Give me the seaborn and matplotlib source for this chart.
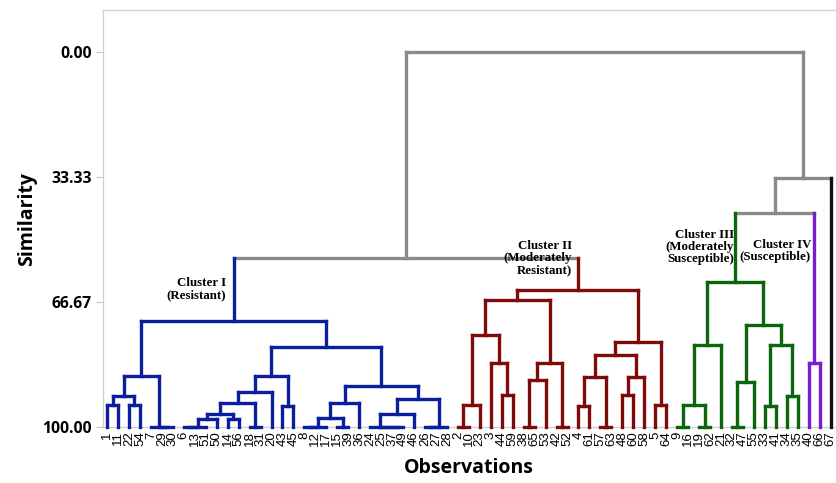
import matplotlib
matplotlib.use("Agg")
import matplotlib.pyplot as plt
import seaborn as sns

# leaves in the order they appear along the x axis
leaf_order = [1, 11, 22, 54, 7, 29, 30, 6, 13, 51, 50, 14, 56, 18, 31, 20, 43, 45,
              8, 12, 17, 15, 39, 36, 24, 25, 37, 49, 46, 26, 27, 28,
              2, 10, 23, 3, 44, 59, 38, 65, 53, 42, 52, 4, 61, 57, 63, 48, 60, 58, 5, 64,
              9, 16, 19, 62, 21, 32, 47, 55, 33, 41, 34, 35,
              40, 66, 67]

# merges: (node, left, right, similarity)
merges_c1 = [
    ("i1", 1, 11, 94.1), ("i2", 22, 54, 94.1), ("i3", "i1", "i2", 91.7),
    ("i4", 29, 30, 100.0), ("i5", 7, "i4", 100.0), ("i6", "i3", "i5", 86.5),
    ("i7", 6, 13, 100.0), ("i8", "i7", 51, 100.0), ("i9", "i8", 50, 97.9),
    ("i10", 14, 56, 97.9), ("i11", "i9", "i10", 96.5), ("i12", 18, 31, 100.0),
    ("i13", "i11", "i12", 93.5), ("i14", "i13", 20, 90.6), ("i15", 43, 45, 94.4),
    ("i16", "i14", "i15", 86.5),
    ("i17", 8, 12, 100.0), ("i18", "i17", 17, 100.0), ("i19", 15, 39, 100.0),
    ("i20", "i18", "i19", 97.7), ("i21", "i20", 36, 93.7),
    ("i22", 37, 49, 100.0), ("i23", 25, "i22", 100.0), ("i24", 24, "i23", 100.0),
    ("i25", "i24", 46, 96.5), ("i26", 26, 27, 100.0), ("i27", "i26", 28, 100.0),
    ("i28", "i25", "i27", 92.6), ("i29", "i21", "i28", 89.1),
    ("i30", "i16", "i29", 78.6), ("I", "i6", "i30", 71.6),
]
merges_c2 = [
    ("ii1", 2, 10, 100.0), ("ii2", "ii1", 23, 94.1), ("ii3", 44, 59, 91.5),
    ("ii4", 3, "ii3", 82.8), ("ii5", "ii2", "ii4", 75.5),
    ("ii6", 38, 65, 100.0), ("ii7", "ii6", 53, 87.6), ("ii8", 42, 52, 100.0),
    ("ii9", "ii7", "ii8", 82.8), ("ii10", "ii5", "ii9", 66.1),
    ("ii11", 4, 61, 94.4), ("ii12", 57, 63, 100.0), ("ii13", "ii11", "ii12", 86.6),
    ("ii14", 48, 60, 91.5), ("ii15", "ii14", 58, 86.6), ("ii16", "ii13", "ii15", 80.8),
    ("ii17", 5, 64, 94.1), ("ii18", "ii16", "ii17", 77.2),
    ("II", "ii10", "ii18", 63.5),
]
merges_c3 = [
    ("iii1", 9, 16, 100.0), ("iii2", 19, 62, 100.0), ("iii3", "iii1", "iii2", 94.1),
    ("iii4", "iii3", 21, 78.1), ("iii5", 32, 47, 100.0), ("iii6", "iii5", 55, 87.9),
    ("iii7", 33, 41, 94.4), ("iii8", 34, 35, 91.7), ("iii9", "iii7", "iii8", 78.1),
    ("iii10", "iii6", "iii9", 72.8), ("III", "iii4", "iii10", 61.3),
]
merges_c4 = [("IV", 40, 66, 83.0)]
merges_top = [
    ("t1", "III", "IV", 43.0), ("t2", "t1", 67, 33.6),
    ("t3", "I", "II", 54.9), ("root", "t3", "t2", 0.0),
]

cluster_colours = {"I": "#0A1E9E", "II": "#7E0A0A", "III": "#0B650B",
                   "IV": "#7A1CD0", 67: "#111111"}
link_grey = "#8A8A8A"

cluster_notes = ["Cluster I\n(Resistant)", "Cluster II\n(Moderately\nResistant)",
                 "Cluster III\n(Moderately\nSusceptible)", "Cluster IV\n(Susceptible)"]
note_x = [10.87, 42.4, 57.2, 64.2]
note_y = [63.3, 55.0, 51.9, 53.1]

y_ticks = [0.0, 33.33, 66.67, 100.0]

sns.set_theme(style="white")
plt.rcParams["font.family"] = ["Open Sans", "DejaVu Sans"]
plt.rcParams["text.color"] = "black"
plt.rcParams["xtick.labelcolor"] = "black"
plt.rcParams["ytick.labelcolor"] = "black"

merges = merges_c1 + merges_c2 + merges_c3 + merges_c4 + merges_top
children = {m[0]: (m[1], m[2]) for m in merges}
height = {m[0]: m[3] for m in merges}
pos = {leaf: i for i, leaf in enumerate(leaf_order)}


def xpos(n):
    if n not in pos:
        l, r = children[n]
        pos[n] = (xpos(l) + xpos(r)) / 2
    return pos[n]


def h(n):
    return height.get(n, 100.0)


colour = {}


def paint(n, c):
    colour[n] = c
    if n in children:
        for ch in children[n]:
            paint(ch, c)


for root, c in cluster_colours.items():
    paint(root, c)

fig = plt.figure(figsize=(8.37, 4.83), dpi=100)
ax = fig.add_axes([103 / 837, 1 - 427 / 483, 732 / 837, 417 / 483])

lw = 2.4
for node, l, r, s in merges:
    ax.plot([xpos(l), xpos(r)], [s, s], color=colour.get(node, link_grey), lw=lw,
            solid_capstyle="projecting", clip_on=False, zorder=3)
    for ch in (l, r):
        ax.plot([xpos(ch)] * 2, [h(ch), s], color=colour.get(ch, link_grey), lw=lw,
                solid_capstyle="projecting", clip_on=False, zorder=3)

for txt, x, y in zip(cluster_notes, note_x, note_y):
    ax.text(x, y, txt, ha="right", va="center", multialignment="right",
            family="Liberation Serif", weight="bold", fontsize=9.3, linespacing=1.0)

ax.set_xlim(-0.37, 66.4)
ax.set_ylim(100, -11.2)
ax.set_yticks(y_ticks)
ax.set_yticklabels([f"{t:.2f}" for t in y_ticks], fontsize=11.3, fontweight="bold")
ax.set_xticks(range(len(leaf_order)))
ax.set_xticklabels([str(v) for v in leaf_order], rotation=90, fontsize=9.5,
                   family="Liberation Sans")
ax.tick_params(axis="y", length=5, width=0.8, color="#c8c8c8", pad=3, left=True)
ax.tick_params(axis="x", length=0, pad=3)
for side in ["left", "top", "bottom"]:
    ax.spines[side].set_color("#cfcfcf")
    ax.spines[side].set_linewidth(0.9)
ax.spines["right"].set_visible(False)

fig.text(27 / 837, 1 - 219 / 483, "Similarity", rotation=90, ha="center", va="center",
         fontsize=14, fontweight="bold")
fig.text(469 / 837, 1 - 468 / 483, "Observations", ha="center", va="center",
         fontsize=14, fontweight="bold")

fig.savefig("out.png", dpi=100)
